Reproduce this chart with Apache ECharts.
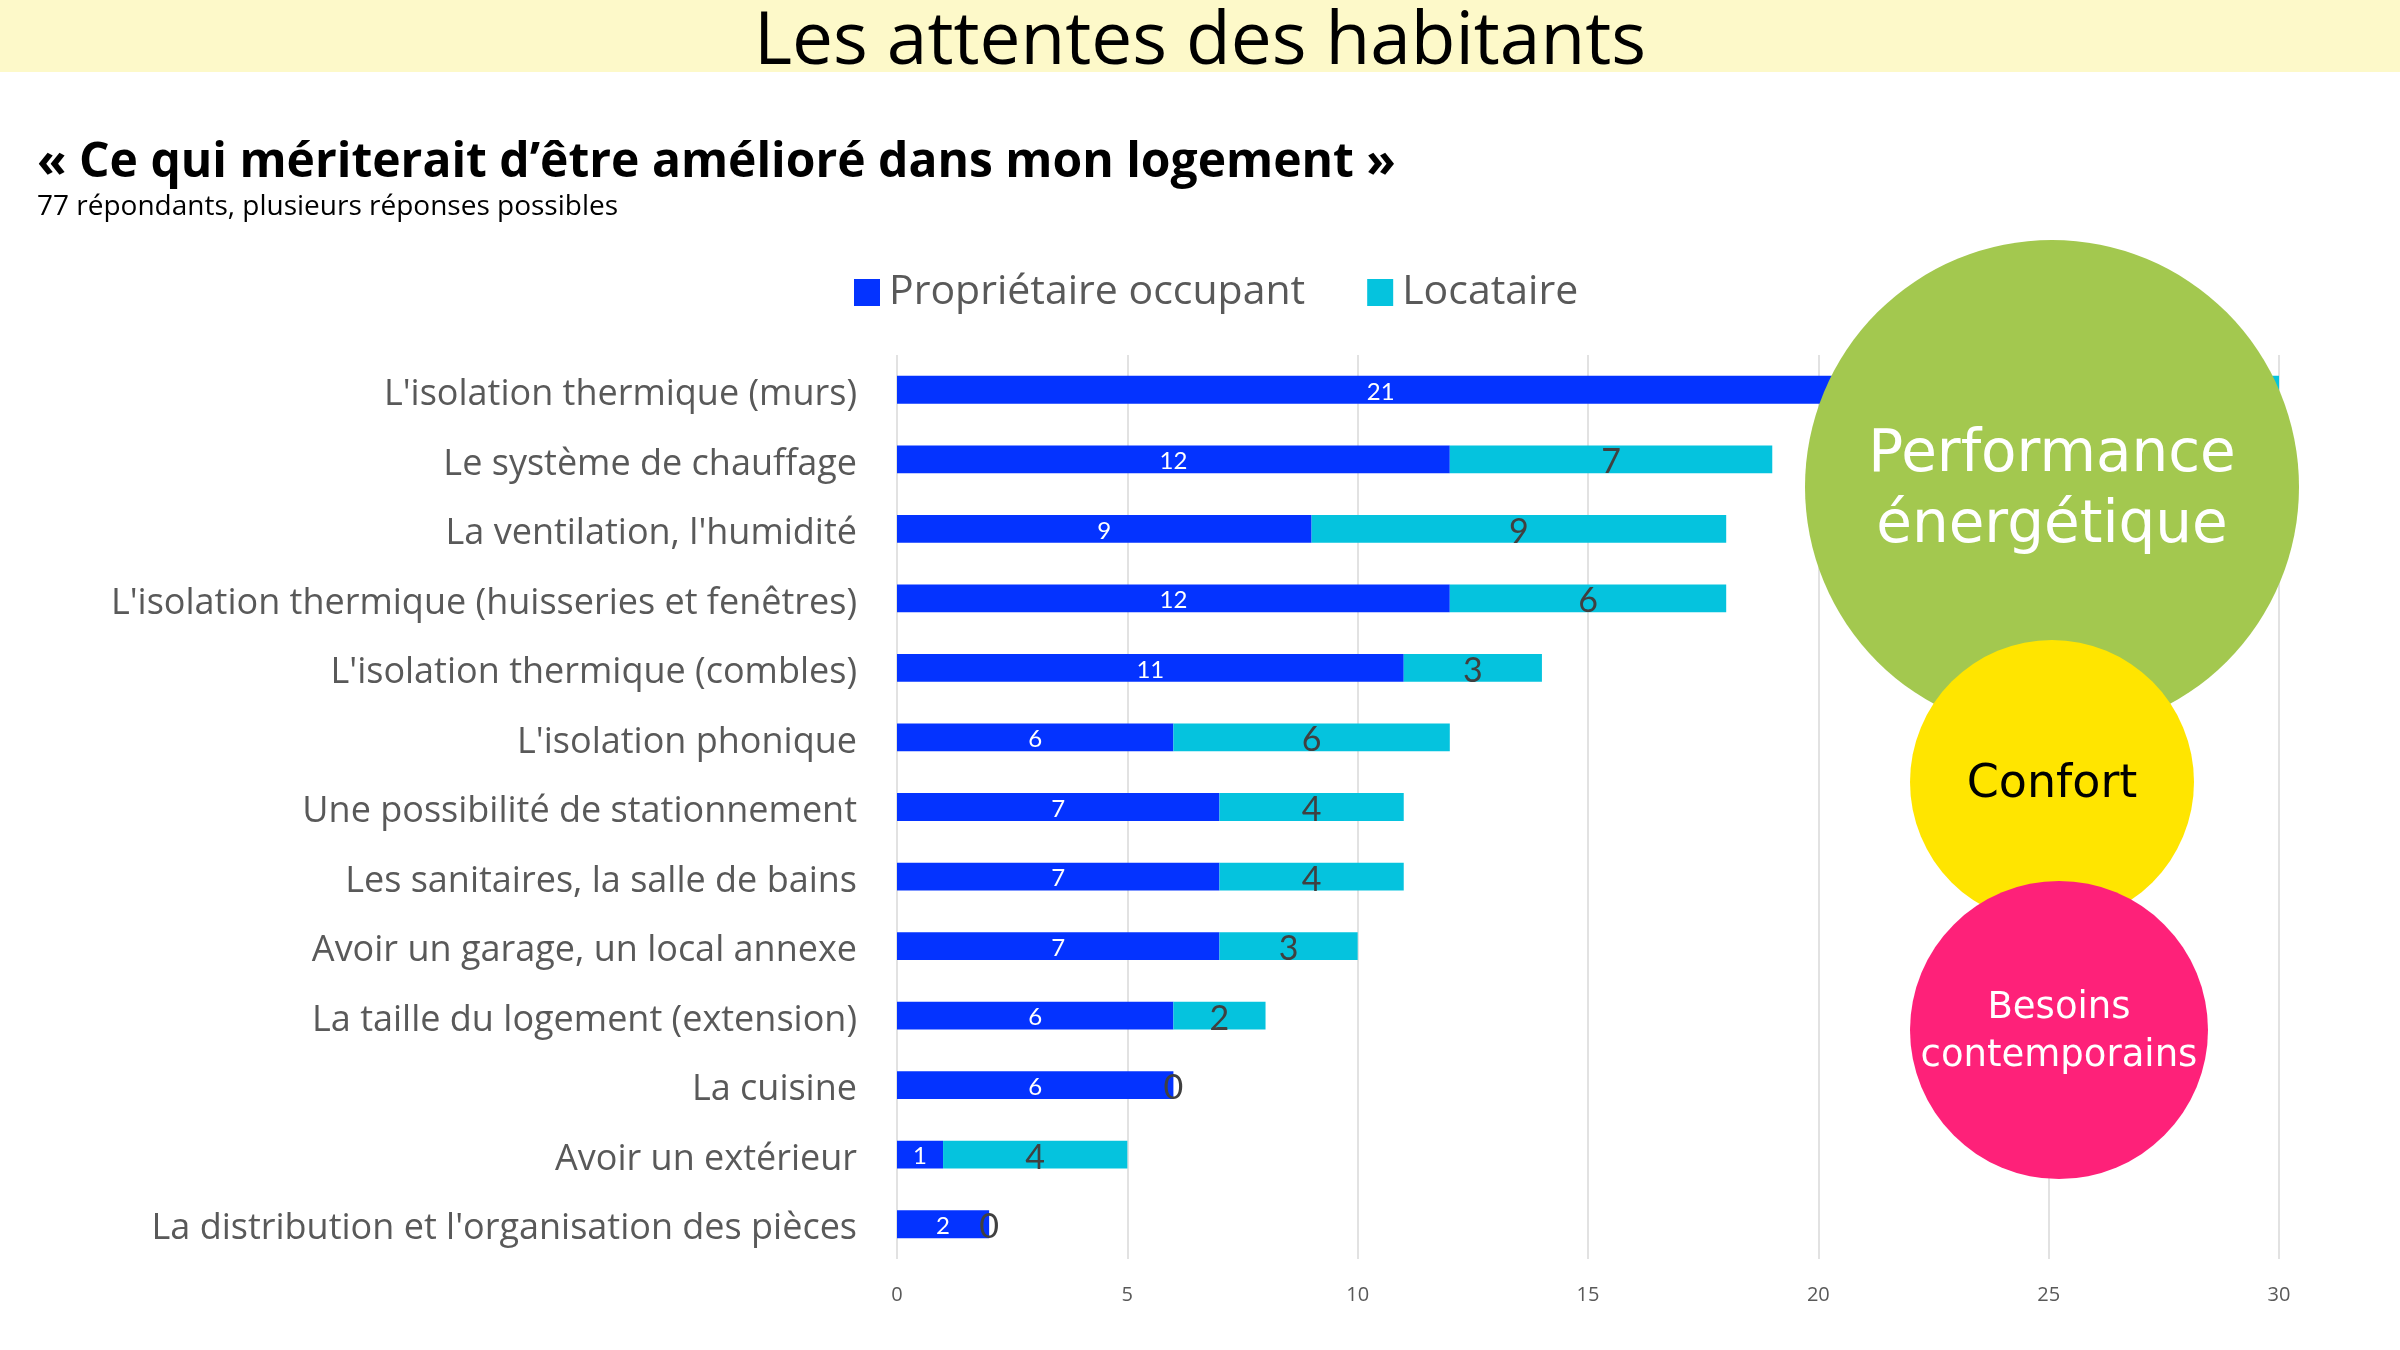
<!DOCTYPE html>
<html><head><meta charset="utf-8">
<script src="https://cdn.jsdelivr.net/npm/echarts@6/dist/echarts.min.js"></script>
<style>html,body{margin:0;padding:0;background:#fff}#c{width:2400px;height:1350px}</style>
</head><body><div id="c"></div>
<script>
const categories = [
  "L'isolation thermique (murs)",
  "Le système de chauffage",
  "La ventilation, l'humidité",
  "L'isolation thermique (huisseries et fenêtres)",
  "L'isolation thermique (combles)",
  "L'isolation phonique",
  "Une possibilité de stationnement",
  "Les sanitaires, la salle de bains",
  "Avoir un garage, un local annexe",
  "La taille du logement (extension)",
  "La cuisine",
  "Avoir un extérieur",
  "La distribution et l'organisation des pièces"
];
const proprietaire = [21, 12, 9, 12, 11, 6, 7, 7, 7, 6, 6, 1, 2];
const locataire = [9, 7, 9, 6, 3, 6, 4, 4, 3, 2, 0, 4, 0];
const seriesNames = ["Propriétaire occupant", "Locataire"];
const xTicks = { min: 0, max: 30, interval: 5 };

const chart = echarts.init(document.getElementById('c'), null, { renderer: 'canvas' });
const F = '"Open Sans", Lato, sans-serif';
const L = 'Lato, "Open Sans", sans-serif';
const G = '"DejaVu Sans", "Open Sans", sans-serif';
chart.setOption({
  animation: false,
  backgroundColor: '#ffffff',
  textStyle: { fontFamily: F },
  legend: {
    left: 849, top: 267,
    itemWidth: 26, itemHeight: 27, itemGap: 62,
    icon: 'rect',
    textStyle: { fontSize: 41, color: '#595959', fontFamily: F, padding: [0, 0, 0, 4] },
    data: seriesNames
  },
  grid: { left: 897, right: 121, top: 355, bottom: 91, containLabel: false },
  xAxis: {
    type: 'value', min: xTicks.min, max: xTicks.max, interval: xTicks.interval,
    axisLine: { show: false }, axisTick: { show: false },
    axisLabel: { fontSize: 20, color: '#595959', margin: 26, fontFamily: F },
    splitLine: { show: true, lineStyle: { color: '#d9d9d9', width: 1.5 } }
  },
  yAxis: {
    type: 'category', data: categories, inverse: true,
    axisLine: { show: false }, axisTick: { show: false },
    axisLabel: {
      margin: 40,
      formatter: function (v) { return '{a|' + v + '}'; },
      rich: { a: { fontSize: 36, color: '#595959', fontFamily: F, padding: [10, 0, 0, 0] } }
    }
  },
  series: [
    {
      name: seriesNames[0], type: 'bar', stack: 'total', data: proprietaire,
      barWidth: '40%',
      itemStyle: { color: '#0433FF' },
      label: { show: true, position: 'inside', color: '#ffffff', fontSize: 24, fontFamily: L, offset: [0, 2] }
    },
    {
      name: seriesNames[1], type: 'bar', stack: 'total', data: locataire,
      barWidth: '40%',
      itemStyle: { color: '#05C3DE' },
      label: { show: true, position: 'inside', color: '#404040', fontSize: 34, fontFamily: L, offset: [0, 3] }
    }
  ],
  graphic: [
    { type: 'rect', z: 0, zlevel: 0, shape: { x: 0, y: 0, width: 2400, height: 72 }, style: { fill: '#FDF9C9' } },
    { type: 'text', z: 10, x: 1200, y: 43, style: { text: 'Les attentes des habitants', fontSize: 73, fill: '#000000', fontFamily: F, align: 'center', verticalAlign: 'middle' } },
    { type: 'text', z: 10, left: 37, top: 139, style: { text: '« Ce qui mériterait d’être amélioré dans mon logement »', fontSize: 48, fontWeight: 'bold', fill: '#000000', fontFamily: F } },
    { type: 'text', z: 10, left: 37, top: 193, style: { text: '77 répondants, plusieurs réponses possibles', fontSize: 28, fill: '#000000', fontFamily: F } },
    { type: 'circle', z: 20, shape: { cx: 2052, cy: 487, r: 247 }, style: { fill: '#A3C84F' } },
    { type: 'text', z: 21, x: 2052, y: 456, style: { text: 'Performance', fontSize: 58, fill: '#ffffff', fontFamily: G, align: 'center', verticalAlign: 'middle' } },
    { type: 'text', z: 21, x: 2052, y: 527, style: { text: 'énergétique', fontSize: 58, fill: '#ffffff', fontFamily: G, align: 'center', verticalAlign: 'middle' } },
    { type: 'circle', z: 22, shape: { cx: 2052, cy: 782, r: 142 }, style: { fill: '#FFE500' } },
    { type: 'text', z: 23, x: 2052, y: 785, style: { text: 'Confort', fontSize: 46, fill: '#000000', fontFamily: G, align: 'center', verticalAlign: 'middle' } },
    { type: 'circle', z: 24, shape: { cx: 2059, cy: 1030, r: 149 }, style: { fill: '#FE2179' } },
    { type: 'text', z: 25, x: 2059, y: 1008, style: { text: 'Besoins', fontSize: 37, fill: '#ffffff', fontFamily: G, align: 'center', verticalAlign: 'middle' } },
    { type: 'text', z: 25, x: 2059, y: 1056, style: { text: 'contemporains', fontSize: 37, fill: '#ffffff', fontFamily: G, align: 'center', verticalAlign: 'middle' } }
  ]
});
</script></body></html>
